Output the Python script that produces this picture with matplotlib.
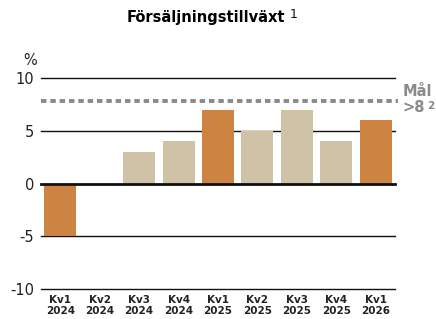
import matplotlib
matplotlib.use("Agg")
import matplotlib.pyplot as plt

kvartal = ["Kv1\n2024", "Kv2\n2024", "Kv3\n2024", "Kv4\n2024", "Kv1\n2025",
           "Kv2\n2025", "Kv3\n2025", "Kv4\n2025", "Kv1\n2026"]
tillvaxt = [-5, -0.15, 3, 4, 7, 5, 7, 4, 6]
typ = ["utfall", "noll", "plan", "plan", "utfall", "plan", "plan", "plan", "utfall"]
mal = 7.8
yticks = [-10, -5, 0, 5, 10]

farger = {"utfall": "#cd8443", "plan": "#cfc2a7", "noll": "#777777"}

plt.rcParams['font.family'] = ['DejaVu Sans']

fig = plt.figure(figsize=(4.36, 3.19), dpi=100)
ax = fig.add_axes([0.094, 0.094, 0.812, 0.661])

for y in yticks:
    ax.axhline(y, color="#111111", lw=2.0 if y == 0 else 1.0, zorder=1 if y != 0 else 3, clip_on=False)

x = list(range(len(kvartal)))
ax.bar(x, tillvaxt, width=0.81, color=[farger[t] for t in typ], zorder=2)

# mållinje
ax.plot([-0.49, 8.56], [mal, mal], color="#8a8a8a", lw=2.8, ls=(0, (1.4, 1.0)), clip_on=False, zorder=4)
ax.text(1.022, 0.935, "Mål", transform=ax.transAxes, color="#8a8a8a", fontsize=10.5, fontweight="bold",
        ha="left", va="center")
t8 = ax.text(1.022, 0.862, ">8", transform=ax.transAxes, color="#8a8a8a", fontsize=10.5, fontweight="bold",
             ha="left", va="center")
ax.annotate("2", xy=(1, 1), xycoords=t8, xytext=(1.5, -1), textcoords="offset points",
            color="#8a8a8a", fontsize=7.5, fontweight="bold", ha="left", va="top")

ax.set_xlim(-0.49, 8.49)
ax.set_ylim(-10, 10)
ax.set_yticks(yticks)
ax.set_yticklabels([str(v) for v in yticks], fontsize=10.5, color="#222222")
ax.set_xticks(x)
ax.set_xticklabels(kvartal, fontsize=7.5, fontweight="bold", color="#222222", linespacing=1.2)
ax.tick_params(axis="both", length=0)
ax.tick_params(axis="y", pad=5)
ax.tick_params(axis="x", pad=4)
for s in ax.spines.values():
    s.set_visible(False)

fig.text(0.07, 0.81, "%", fontsize=10.5, color="#222222", ha="center", va="center")
titel = fig.text(0.472, 0.944, "Försäljningstillväxt", fontsize=10.5, fontweight="bold", ha="center", va="center")
ax.annotate("1", xy=(1, 1), xycoords=titel, xytext=(3, 2), textcoords="offset points",
            fontsize=9, color="#111111", ha="left", va="top")

fig.savefig("out.png", dpi=100)
